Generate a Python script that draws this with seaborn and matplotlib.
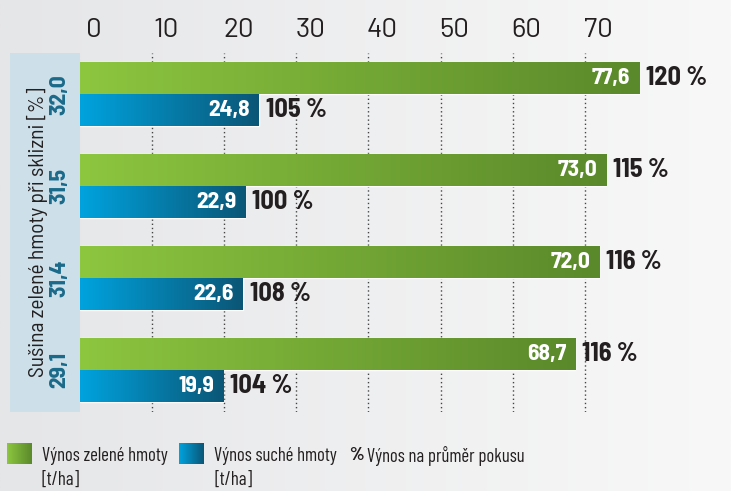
import matplotlib
matplotlib.use('Agg')
import matplotlib.pyplot as plt
import seaborn as sns
import pandas as pd
import numpy as np
from matplotlib.colors import LinearSegmentedColormap
from matplotlib.patches import Rectangle
from matplotlib.transforms import ScaledTranslation

# Data
dry_matter = ['32,0', '31,5', '31,4', '29,1']   # Sušina zelené hmoty při sklizni [%]
green_yield = [77.6, 73.0, 72.0, 68.7]           # Výnos zelené hmoty [t/ha]
dry_yield = [24.8, 22.9, 22.6, 19.9]             # Výnos suché hmoty [t/ha]
green_pct = [120, 115, 116, 116]                 # Výnos na průměr pokusu
dry_pct = [105, 100, 108, 104]
x_ticks = [0, 10, 20, 30, 40, 50, 60, 70]
series_names = ['Výnos zelené hmoty', 'Výnos suché hmoty']

sns.set_style('white')
SEMI = ['Barlow Semi Condensed', 'DejaVu Sans']
COND = ['Barlow Condensed', 'DejaVu Sans']
plt.rcParams['font.family'] = SEMI

df = pd.DataFrame({
    'sušina': dry_matter * 2,
    'výnos': green_yield + dry_yield,
    'řada': [series_names[0]] * 4 + [series_names[1]] * 4,
})

W, H = 731, 491
fig = plt.figure(figsize=(W / 100, H / 100), dpi=100)

# background gradient
bg = fig.add_axes([0, 0, 1, 1], zorder=-10)
bg_cmap = LinearSegmentedColormap.from_list('bg', ['#e5e6e8', '#f8f8f8'])
bg.imshow(np.linspace(0, 1, 256).reshape(1, -1), cmap=bg_cmap, aspect='auto',
          extent=[0, 1, 0, 1])
bg.set_axis_off()

# light blue box on the left
fig.add_artist(Rectangle((10 / W, 79 / H), 70 / W, 359 / H, transform=fig.transFigure,
                         facecolor='#cde0ea', edgecolor='none', zorder=-5))

ax = fig.add_axes([80 / W, 79 / H, 651 / W, 359 / H])
ax.set_facecolor('none')

sns.barplot(data=df, y='sušina', x='výnos', hue='řada', orient='h', width=0.7,
            palette=['#74ad36', '#0780b0'], legend=False, ax=ax, saturation=1,
            order=dry_matter, hue_order=series_names)

px_per_unit = 7.21

cmaps = [LinearSegmentedColormap.from_list('g', ['#8dc63f', '#5a892b']),
         LinearSegmentedColormap.from_list('b', ['#00a3de', '#0b5676'])]
grad = np.linspace(0, 1, 256).reshape(1, -1)

val_lists = [green_yield, dry_yield]
pct_lists = [green_pct, dry_pct]
for ci, cont in enumerate(ax.containers):
    for bar, val in zip(cont, val_lists[ci]):
        x0, y0 = bar.get_x(), bar.get_y()
        w, h = bar.get_width(), bar.get_height()
        # gradient fill clipped to the bar
        im = ax.imshow(grad, cmap=cmaps[ci], aspect='auto',
                       extent=[x0, x0 + w, y0 + h, y0], zorder=bar.get_zorder() + 0.1)
        im.set_clip_path(bar)
        ax.annotate(f'{val:.1f}'.replace('.', ','), (x0 + w, y0 + h / 2),
                    xytext=(-6.5, 0), textcoords='offset points', ha='right',
                    va='center', color='white', fontsize=17, fontweight='bold', zorder=5)
    ax.bar_label(cont, labels=[f'{p} %' for p in pct_lists[ci]], padding=5,
                 fontsize=19, fontweight='bold', color='#231f20', zorder=5)

ax.set_xlim(0, 651 / px_per_unit)
ax.set_ylim(3.46, -0.45)

# top axis and dotted grid
ax.xaxis.tick_top()
ax.set_xticks(x_ticks)
ax.set_xticklabels([str(t) for t in x_ticks], fontsize=20, color='#231f20',
                   family=['Barlow', 'DejaVu Sans'])
ax.tick_params(axis='x', length=0, pad=8)
offset = ScaledTranslation(14 / 100, 0, fig.dpi_scale_trans)
for lab in ax.get_xticklabels():
    lab.set_transform(lab.get_transform() + offset)
ax.grid(axis='x', color='#444444', linestyle=(0, (1, 2)), linewidth=1)
ax.set_axisbelow(True)
ax.get_xgridlines()[0].set_visible(False)

ax.set_yticks(range(len(dry_matter)))
ax.set_yticklabels(dry_matter, rotation=90, fontsize=17, fontweight='bold',
                   color='#1b6a8a', va='center')
ax.tick_params(axis='y', length=0, pad=8)
ax.set_xlabel('')
ax.set_ylabel('Sušina zelené hmoty při sklizni [%]', fontsize=15.5, color='#231f20')
ax.yaxis.label.set_va('center')
ax.yaxis.set_label_coords(-43 / 651, 0.5)
for s in ax.spines.values():
    s.set_visible(False)

# legend
def swatch(x, cmap):
    lax = fig.add_axes([x / W, (H - 464) / H, 25 / W, 21 / H])
    lax.imshow(grad, cmap=cmap, aspect='auto')
    lax.set_axis_off()

swatch(7, cmaps[0])
swatch(179, cmaps[1])
leg_kw = dict(fontsize=13.5, color='#231f20', va='center', ha='left', family=COND)
fig.text(42 / W, (H - 456) / H, series_names[0], **leg_kw)
fig.text(42 / W, (H - 480) / H, '[t/ha]', **leg_kw)
fig.text(214 / W, (H - 456) / H, series_names[1], **leg_kw)
fig.text(214 / W, (H - 480) / H, '[t/ha]', **leg_kw)
fig.text(349 / W, (H - 456) / H, '%', fontweight='bold', fontsize=13.5, family=COND,
         color='#231f20', va='center', ha='left')
fig.text(367 / W, (H - 456) / H, 'Výnos na průměr pokusu', **leg_kw)

fig.savefig('out.png', dpi=100)
